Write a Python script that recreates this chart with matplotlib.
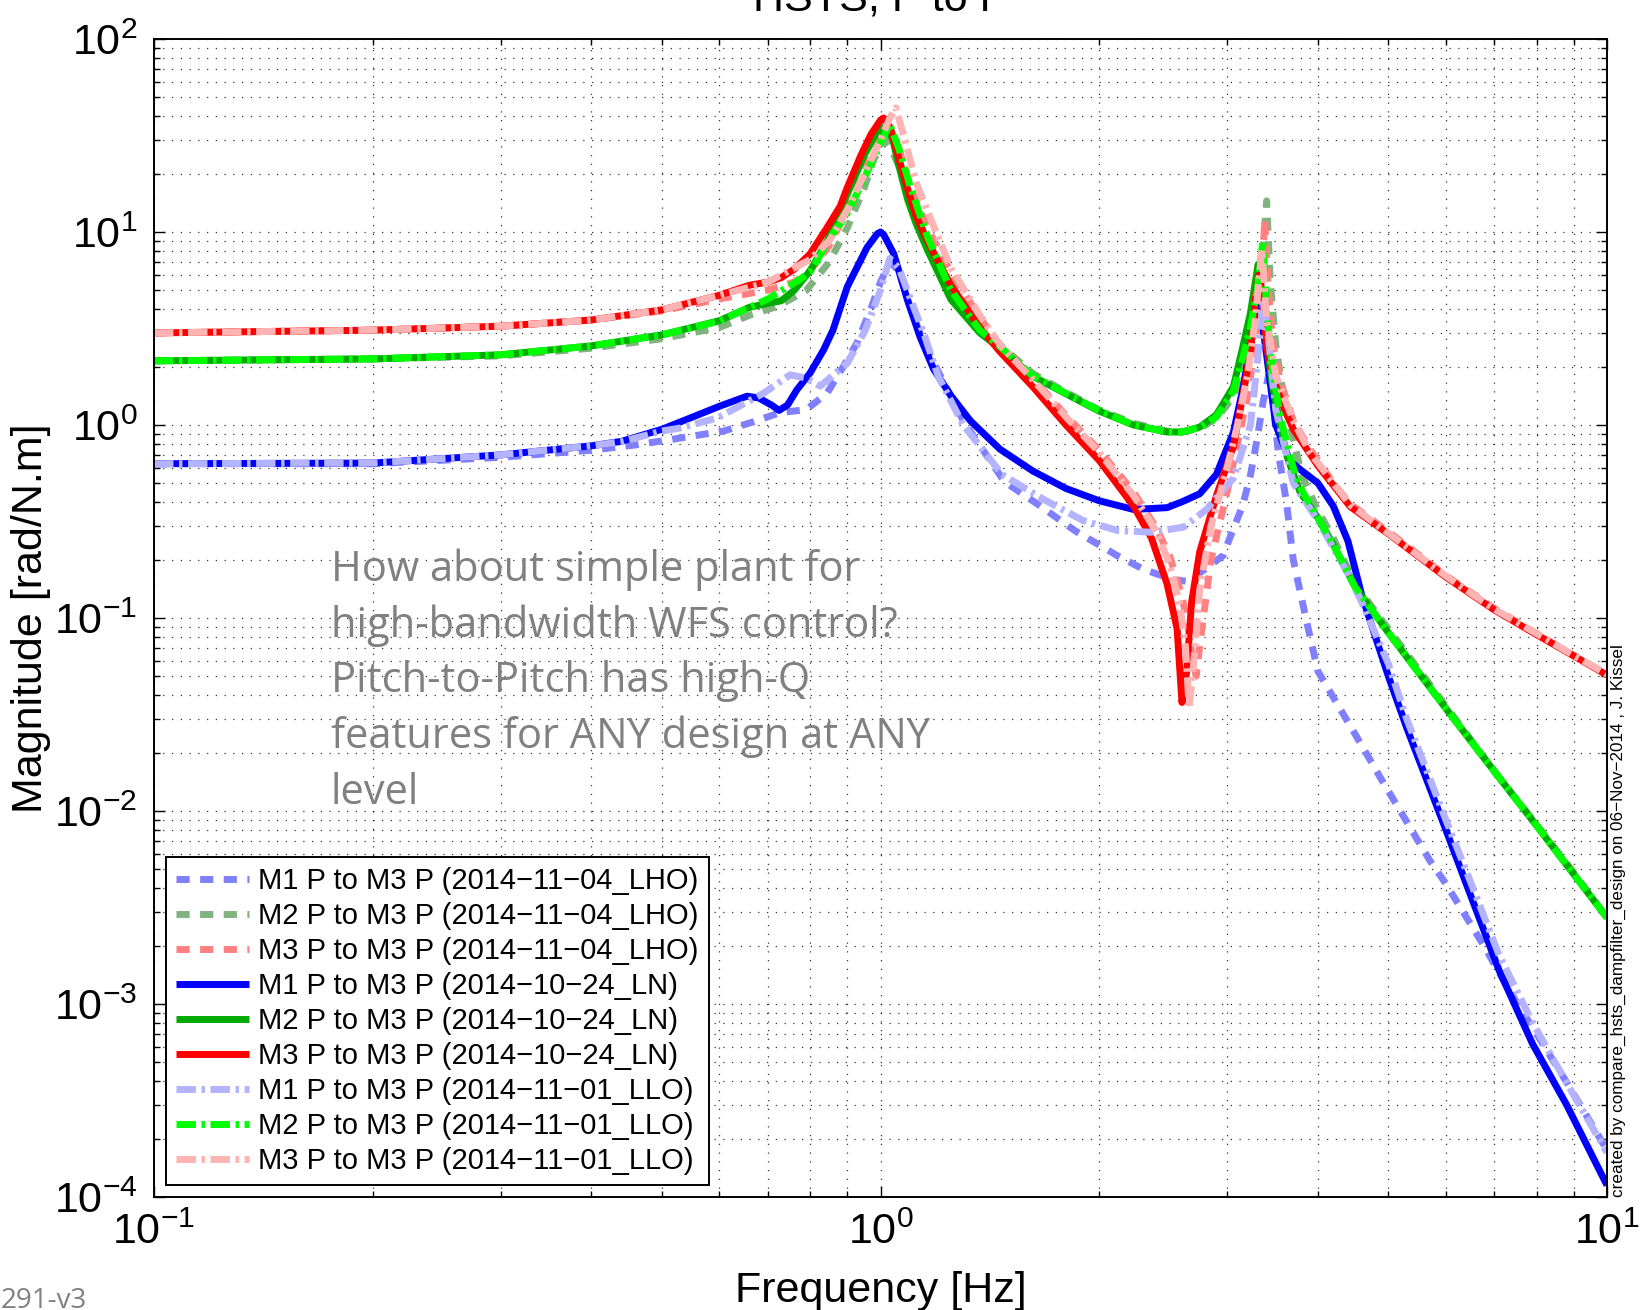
import matplotlib
matplotlib.use("Agg")
import matplotlib.pyplot as plt
from matplotlib.ticker import LogLocator, NullFormatter

plt.rcParams['font.family'] = ['Liberation Sans', 'DejaVu Sans']
plt.rcParams['mathtext.fontset'] = 'custom'
plt.rcParams['mathtext.rm'] = 'Liberation Sans'
plt.rcParams['mathtext.it'] = 'Liberation Sans:italic'
plt.rcParams['mathtext.bf'] = 'Liberation Sans:bold'

# ---------------- data ----------------
# M1 P to M3 P (2014-11-04_LHO)
f_m1_lho = [0.1, 0.2, 0.3, 0.4, 0.462, 0.514, 0.608, 0.669, 0.728, 0.79, 0.844, 0.889, 0.928, 0.97, 1.0, 1.03,
            1.06, 1.1, 1.15, 1.2, 1.3, 1.48, 1.66, 1.85, 2.12, 2.30, 2.53, 2.64, 2.755, 2.96, 3.06, 3.15, 3.23,
            3.3, 3.36, 3.42, 3.47, 3.53, 3.62, 3.7, 3.85, 4.0, 4.25, 4.53, 4.88, 5.31, 5.71, 6.0, 6.77, 7.36,
            8.0, 8.81, 10.0]
m_m1_lho = [0.63, 0.63, 0.68, 0.74, 0.79, 0.84, 0.93, 1.04, 1.16, 1.2, 1.46, 2.01, 2.66, 4.0, 5.5, 7.0,
            6.3, 4.0, 2.6, 1.9, 1.05, 0.51, 0.38, 0.284, 0.21, 0.179, 0.158, 0.155, 0.172, 0.21, 0.29, 0.38, 0.55,
            0.85, 1.3, 1.8, 1.3, 0.71, 0.40, 0.2, 0.1, 0.053, 0.036, 0.024, 0.0148, 0.0087, 0.0055, 0.0042, 0.0020,
            0.00115, 7.0e-4, 3.9e-4, 1.75e-4]

# M2 P to M3 P (2014-11-04_LHO)
f_m2_lho = [0.1, 0.2, 0.3, 0.4, 0.5, 0.6, 0.667, 0.72, 0.79, 0.85, 0.9, 0.95, 0.98, 1.02, 1.06, 1.1, 1.16,
            1.25, 1.37, 1.46, 1.62, 1.8, 2.0, 2.23, 2.48, 2.6, 2.75, 2.9, 3.06, 3.15, 3.23, 3.3, 3.36, 3.40,
            3.44, 3.5, 3.6, 3.7, 3.8, 4.0, 4.2, 4.5, 5.0, 6.0, 7.0, 8.0, 9.0, 10.0]
m_m2_lho = [2.15, 2.2, 2.28, 2.5, 2.8, 3.2, 3.76, 4.1, 4.97, 7.0, 10.5, 17, 24, 30, 22, 14.5, 9.0,
            5.2, 3.2, 2.6, 1.85, 1.48, 1.2, 1.02, 0.93, 0.92, 0.96, 1.08, 1.4, 1.9, 2.7, 4.5, 8.0, 14.5,
            5.5, 2.6, 1.3, 0.85, 0.55, 0.36, 0.26, 0.15, 0.088, 0.035, 0.016, 0.0085, 0.0048, 0.0028]

# M3 P to M3 P (2014-11-04_LHO)
f_m3_lho = [0.1, 0.2, 0.3, 0.4, 0.5, 0.6, 0.7, 0.76, 0.8, 0.85, 0.9, 0.95, 1.0, 1.03, 1.06, 1.1, 1.16,
            1.25, 1.37, 1.46, 1.62, 1.8, 2.0, 2.23, 2.4, 2.5, 2.6, 2.65, 2.69, 2.72, 2.76, 2.85, 3.0, 3.1,
            3.2, 3.3, 3.35, 3.38, 3.42, 3.47, 3.55, 3.7, 3.9, 4.2, 4.43, 5.0, 6.0, 7.0, 8.0, 9.0, 10.0]
m_m3_lho = [3.0, 3.1, 3.25, 3.5, 3.9, 4.5, 5.0, 5.5, 6.3, 8.5, 13, 21, 30, 35, 27, 17, 10.5,
            6.2, 3.6, 2.6, 1.75, 1.12, 0.74, 0.45, 0.29, 0.21, 0.13, 0.09, 0.06, 0.05, 0.08, 0.2, 0.45, 0.8,
            1.4, 3.0, 6.0, 11.7, 5.0, 2.6, 1.7, 1.05, 0.75, 0.5, 0.39, 0.28, 0.166, 0.112, 0.083, 0.064, 0.051]

# M1 P to M3 P (2014-10-24_LN)
f_m1_ln = [0.1, 0.2, 0.3, 0.4, 0.44, 0.5, 0.54, 0.6, 0.655, 0.68, 0.71, 0.725, 0.745, 0.767, 0.8, 0.835,
           0.86, 0.9, 0.958, 0.99, 1.0, 1.01, 1.043, 1.088, 1.134, 1.183, 1.25, 1.33, 1.46, 1.62, 1.8, 2.0,
           2.23, 2.48, 2.6, 2.75, 2.9, 3.06, 3.15, 3.23, 3.30, 3.33, 3.4, 3.5, 3.66, 3.8, 4.0, 4.2, 4.4, 4.6,
           5.0, 5.3, 6.0, 6.4, 7.1, 7.9, 8.8, 10.0]
m_m1_ln = [0.63, 0.635, 0.70, 0.78, 0.823, 0.95, 1.066, 1.25, 1.41, 1.38, 1.26, 1.19, 1.27, 1.52, 1.86, 2.45,
           3.1, 5.2, 8.3, 9.8, 10.0, 9.7, 7.7, 4.5, 2.85, 1.95, 1.42, 1.05, 0.75, 0.578, 0.469, 0.405,
           0.365, 0.373, 0.40, 0.44, 0.555, 0.916, 1.51, 2.6, 3.8, 4.1, 2.3, 1.0, 0.65, 0.58, 0.5, 0.38, 0.25, 0.13,
           0.05, 0.027, 0.008, 0.0042, 0.0015, 6.2e-4, 3.0e-4, 1.15e-4]

# M2 P to M3 P (2014-10-24_LN)
f_m2_ln = [0.1, 0.2, 0.3, 0.4, 0.5, 0.6, 0.66, 0.7, 0.73, 0.76, 0.8, 0.845, 0.9, 0.95, 0.98, 1.01, 1.02,
           1.04, 1.06, 1.09, 1.12, 1.16, 1.25, 1.37, 1.46, 1.62, 1.8, 2.0, 2.23, 2.48, 2.6, 2.75, 2.9, 3.06,
           3.15, 3.23, 3.28, 3.31, 3.35, 3.4, 3.46, 3.55, 3.63, 3.78, 4.0, 4.2, 4.5, 5.0, 6.0, 7.0, 8.0, 9.0, 10.0]
m_m2_ln = [2.15, 2.2, 2.31, 2.57, 2.93, 3.47, 4.07, 4.27, 4.4, 4.97, 6.3, 9.0, 15.7, 25, 31, 35, 35.3,
           30, 22, 14.7, 11, 8.1, 4.47, 3.0, 2.5, 1.79, 1.45, 1.18, 1.0, 0.92, 0.92, 0.975, 1.13, 1.58,
           2.5, 3.8, 5.5, 6.8, 4.5, 2.7, 1.64, 1.0, 0.68, 0.45, 0.33, 0.24, 0.145, 0.084, 0.034, 0.016, 0.0084, 0.0047, 0.0028]

# M3 P to M3 P (2014-10-24_LN)
f_m3_ln = [0.1, 0.2, 0.3, 0.4, 0.5, 0.6, 0.66, 0.7, 0.73, 0.76, 0.8, 0.845, 0.88, 0.9, 0.94, 0.97, 1.0,
           1.01, 1.03, 1.06, 1.09, 1.12, 1.16, 1.25, 1.37, 1.46, 1.62, 1.8, 2.0, 2.23, 2.36, 2.48, 2.56, 2.6,
           2.64, 2.68, 2.75, 2.9, 3.06, 3.15, 3.23, 3.29, 3.32, 3.36, 3.4, 3.5, 3.6, 3.7, 3.8, 4.0, 4.43,
           5.0, 6.0, 7.0, 8.0, 9.0, 10.0]
m_m3_ln = [3.0, 3.1, 3.25, 3.5, 3.95, 4.7, 5.3, 5.5, 5.8, 6.4, 7.7, 10.6, 13.6, 17.0, 25, 32, 38,
           39, 35, 24, 16.6, 12, 9.0, 5.3, 3.2, 2.4, 1.58, 1.0, 0.655, 0.38, 0.26, 0.15, 0.088, 0.0365,
           0.053, 0.12, 0.22, 0.43, 0.775, 1.39, 2.4, 5.0, 6.0, 4.5, 2.5, 1.6, 1.2, 0.95, 0.82, 0.615, 0.378,
           0.273, 0.163, 0.11, 0.082, 0.0636, 0.0506]

# M1 P to M3 P (2014-11-01_LLO)
f_m1_llo = [0.1, 0.2, 0.3, 0.4, 0.44, 0.5, 0.53, 0.596, 0.69, 0.751, 0.79, 0.826, 0.9, 0.953, 1.0, 1.03,
            1.06, 1.1, 1.15, 1.2, 1.3, 1.47, 1.68, 1.90, 2.12, 2.36, 2.615, 2.81, 3.06, 3.23, 3.31, 3.36,
            3.42, 3.5, 3.7, 4.0, 4.4, 4.6, 5.0, 5.3, 6.0, 6.4, 7.1, 7.9, 8.8, 10.0]
m_m1_llo = [0.63, 0.635, 0.70, 0.78, 0.82, 0.93, 0.965, 1.087, 1.46, 1.82, 1.75, 1.59, 2.09, 3.1, 5.0, 7.3,
            6.5, 4.5, 2.9, 1.8, 1.0, 0.554, 0.41, 0.32, 0.284, 0.278, 0.296, 0.365, 0.53, 1.0, 2.3, 4.5,
            2.8, 1.2, 0.5, 0.32, 0.17, 0.12, 0.058, 0.03, 0.009, 0.0049, 0.0018, 8e-4, 3.9e-4, 1.7e-4]

# M2 P to M3 P (2014-11-01_LLO)
f_m2_llo = [0.1, 0.2, 0.3, 0.4, 0.5, 0.6, 0.7, 0.77, 0.8, 0.86, 0.9, 0.95, 1.0, 1.03, 1.06, 1.1, 1.16,
            1.25, 1.37, 1.46, 1.62, 1.8, 2.0, 2.23, 2.48, 2.6, 2.75, 2.9, 3.06, 3.15, 3.23, 3.3, 3.33, 3.36,
            3.40, 3.46, 3.55, 3.7, 3.8, 4.0, 4.2, 4.5, 5.0, 6.0, 7.0, 8.0, 9.0, 10.0]
m_m2_llo = [2.15, 2.2, 2.31, 2.57, 2.93, 3.45, 4.5, 5.6, 6.2, 9.8, 12.5, 19, 29, 36, 27, 17, 9.5,
            5.0, 3.1, 2.55, 1.8, 1.46, 1.19, 1.0, 0.92, 0.92, 0.97, 1.1, 1.5, 2.2, 3.2, 5.0, 6.8, 9.0,
            4.0, 2.0, 1.1, 0.6, 0.46, 0.33, 0.24, 0.145, 0.084, 0.034, 0.016, 0.0084, 0.0047, 0.0028]

# M3 P to M3 P (2014-11-01_LLO)
f_m3_llo = [0.1, 0.2, 0.3, 0.4, 0.5, 0.6, 0.7, 0.76, 0.8, 0.85, 0.9, 0.95, 1.0, 1.03, 1.05, 1.08, 1.12,
            1.18, 1.25, 1.37, 1.46, 1.62, 1.8, 2.0, 2.23, 2.4, 2.5, 2.58, 2.63, 2.66, 2.7, 2.75, 2.85, 3.0,
            3.1, 3.2, 3.28, 3.33, 3.35, 3.4, 3.5, 3.7, 3.9, 4.2, 4.43, 5.0, 6.0, 7.0, 8.0, 9.0, 10.0]
m_m3_llo = [3.0, 3.1, 3.25, 3.5, 3.95, 4.7, 5.5, 6.5, 7.2, 9.0, 13, 20, 30, 39, 44, 30, 18,
            11, 6.5, 3.7, 2.6, 1.72, 1.1, 0.72, 0.43, 0.28, 0.19, 0.12, 0.07, 0.034, 0.06, 0.14, 0.3, 0.6,
            1.0, 1.8, 3.5, 6.5, 8.1, 3.5, 1.8, 1.05, 0.72, 0.5, 0.385, 0.275, 0.165, 0.111, 0.083, 0.064, 0.051]

labels = ["M1 P to M3 P (2014\u221211\u221204_LHO)",
          "M2 P to M3 P (2014\u221211\u221204_LHO)",
          "M3 P to M3 P (2014\u221211\u221204_LHO)",
          "M1 P to M3 P (2014\u221210\u221224_LN)",
          "M2 P to M3 P (2014\u221210\u221224_LN)",
          "M3 P to M3 P (2014\u221210\u221224_LN)",
          "M1 P to M3 P (2014\u221211\u221201_LLO)",
          "M2 P to M3 P (2014\u221211\u221201_LLO)",
          "M3 P to M3 P (2014\u221211\u221201_LLO)"]

series = [(f_m1_lho, m_m1_lho), (f_m2_lho, m_m2_lho), (f_m3_lho, m_m3_lho),
          (f_m1_ln, m_m1_ln), (f_m2_ln, m_m2_ln), (f_m3_ln, m_m3_ln),
          (f_m1_llo, m_m1_llo), (f_m2_llo, m_m2_llo), (f_m3_llo, m_m3_llo)]

colors = ['#8080ff', '#80b380', '#ff8080',
          '#0000ff', '#00aa00', '#ff0000',
          '#b3b3ff', '#00ff00', '#ffb3b3']
dash = (0, (1.9, 1.5))
dashdot = (0, (2.8, 0.8, 0.5, 0.8))
styles = [dash, dash, dash, '-', '-', '-', dashdot, dashdot, dashdot]

# ---------------- figure ----------------
W, H = 1647, 1310
fig = plt.figure(figsize=(W / 100, H / 100), dpi=100)
ax = fig.add_axes([154 / W, 1 - 1197 / H, (1607 - 154) / W, (1197 - 39) / H])

lw = 5.0
for (f, m), c, ls, lab in zip(series, colors, styles, labels):
    ax.loglog(f, m, color=c, linestyle=ls, linewidth=lw, label=lab, solid_capstyle='butt')

ax.set_xlim(0.1, 10)
ax.set_ylim(1e-4, 1e2)

ax.xaxis.set_major_locator(LogLocator(base=10, numticks=10))
ax.yaxis.set_major_locator(LogLocator(base=10, numticks=10))
ax.xaxis.set_minor_locator(LogLocator(base=10, subs=range(2, 10), numticks=100))
ax.yaxis.set_minor_locator(LogLocator(base=10, subs=range(2, 10), numticks=100))
ax.xaxis.set_minor_formatter(NullFormatter())
ax.yaxis.set_minor_formatter(NullFormatter())

ax.grid(True, which='both', linestyle=(0, (1, 6)), color='black', linewidth=0.9, alpha=0.8)
ax.set_axisbelow(True)

ax.tick_params(which='both', direction='in', top=True, right=True, width=1.0)
ax.tick_params(which='major', length=8, labelsize=31)
ax.tick_params(which='minor', length=4)
ax.tick_params(axis='x', which='major', pad=11)
ax.tick_params(axis='y', which='major', pad=12)
for sp in ax.spines.values():
    sp.set_linewidth(1.4)

ax.set_xlabel("Frequency [Hz]", fontsize=31)
ax.set_ylabel("Magnitude [rad/N.m]", fontsize=31)
ax.xaxis.set_label_coords(0.5, -0.064)
ax.yaxis.set_label_coords(-0.071, 0.5)

leg = ax.legend(loc='lower left', bbox_to_anchor=(0.0083, 0.0104), borderaxespad=0,
                fontsize=21, handlelength=2.5, handletextpad=0.3, labelspacing=0.24,
                borderpad=0.35, fancybox=False, framealpha=1, edgecolor='black')
leg.get_frame().set_linewidth(1.4)

# title (partly cut off at the top, as in the reference)
fig.text((154 + 1607) / 2 / W, 1 - 10 / H, "HSTS, P to P", fontsize=31, ha='center', va='baseline')

# annotation
note_lines = ["How about simple plant for",
              "high-bandwidth WFS control?",
              "Pitch-to-Pitch has high-Q",
              "features for ANY design at ANY",
              "level"]
for i, line in enumerate(note_lines):
    fig.text(331 / W, 1 - (581 + 55.7 * i) / H, line, fontsize=30, color='#808080',
             family=['Open Sans', 'DejaVu Sans'], ha='left', va='baseline')

fig.text(1618 / W, 1 - 1197 / H,
         "created by compare_hsts_dampfilter_design on 06\u2212Nov\u22122014 , J. Kissel",
         rotation=90, fontsize=12.3, ha='center', va='bottom')

fig.text(1 / W, 1 - 1308 / H, "291-v3", fontsize=20, color='#808080',
         family=['Open Sans', 'DejaVu Sans'], ha='left', va='baseline')

fig.savefig("out.png", dpi=100)
